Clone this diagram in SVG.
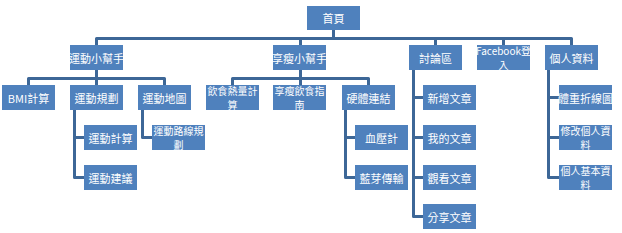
<svg xmlns="http://www.w3.org/2000/svg" width="622" height="233" viewBox="0 0 622 233">
<style>
.b{fill:#4F81BD;}
.t{fill:#FFFFFF;font-family:"Noto Sans CJK TC","Noto Sans CJK SC",sans-serif;font-size:11px;text-anchor:middle;dominant-baseline:central;}
.t2{font-size:10px;}
.c{fill:none;stroke:#3D6797;stroke-width:3;stroke-linejoin:round;}
</style>
<rect width="622" height="233" fill="#FFFFFF"/>
<g id="connectors">
<path class="c" d="M333.5 30V38.5M96.5 45V38.5H571.5V45M300.5 38.5V45M435.5 38.5V45M503.5 38.5V45"/>
<path class="c" d="M96.5 70V78.5M28.5 85V78.5H164.5V85M96.5 78.5V85"/>
<path class="c" d="M300.5 70V78.5M232.5 85V78.5H368.5V85M300.5 78.5V85"/>
<path class="c" d="M74.5 110V177.5H84M74.5 137.5H84"/>
<path class="c" d="M142.5 110V137.5H152"/>
<path class="c" d="M345.5 110V177.5H355M345.5 137.5H355"/>
<path class="c" d="M413.5 70V216.5H423M413.5 97.5H423M413.5 137.5H423M413.5 177.5H423"/>
<path class="c" d="M548.5 70V177.5H559M548.5 97.5H559M548.5 137.5H559"/>
</g>
<g id="n-home"><rect class="b" x="307" y="6" width="53" height="24"/><text class="t" x="333.5" y="18">首頁</text></g>
<g id="n-sport"><rect class="b" x="70" y="45" width="53" height="25"/><text class="t" x="96.5" y="57.5">運動小幫手</text></g>
<g id="n-diet"><rect class="b" x="273" y="45" width="53" height="25"/><text class="t" x="299.5" y="57.5">享瘦小幫手</text></g>
<g id="n-forum"><rect class="b" x="409" y="45" width="53" height="25"/><text class="t" x="435.5" y="57.5">討論區</text></g>
<g id="n-fb"><rect class="b" x="477" y="45" width="53" height="25"/><text class="t t2" x="503.5" y="50">Facebook登</text><text class="t t2" x="503.5" y="64.5">入</text></g>
<g id="n-profile"><rect class="b" x="545" y="45" width="53" height="25"/><text class="t" x="571.5" y="57.5">個人資料</text></g>
<g id="n-bmi"><rect class="b" x="2" y="85" width="53" height="25"/><text class="t" x="28.5" y="97.5">BMI計算</text></g>
<g id="n-plan"><rect class="b" x="70" y="85" width="53" height="25"/><text class="t" x="96.5" y="97.5">運動規劃</text></g>
<g id="n-map"><rect class="b" x="138" y="85" width="53" height="25"/><text class="t" x="164.5" y="97.5">運動地圖</text></g>
<g id="n-cal"><rect class="b" x="206" y="85" width="53" height="25"/><text class="t t2" x="232.5" y="90">飲食熱量計</text><text class="t t2" x="232.5" y="104.5">算</text></g>
<g id="n-guide"><rect class="b" x="273" y="85" width="53" height="25"/><text class="t t2" x="299.5" y="90">享瘦飲食指</text><text class="t t2" x="299.5" y="104.5">南</text></g>
<g id="n-hw"><rect class="b" x="342" y="85" width="53" height="25"/><text class="t" x="368.5" y="97.5">硬體連結</text></g>
<g id="n-new"><rect class="b" x="423" y="85" width="53" height="25"/><text class="t" x="449.5" y="97.5">新增文章</text></g>
<g id="n-weight"><rect class="b" x="559" y="85" width="53" height="25"/><text class="t" x="585.5" y="97.5">體重折線圖</text></g>
<g id="n-calc"><rect class="b" x="84" y="125" width="53" height="25"/><text class="t" x="110.5" y="137.5">運動計算</text></g>
<g id="n-route"><rect class="b" x="152" y="125" width="53" height="25"/><text class="t t2" x="178.5" y="130">運動路線規</text><text class="t t2" x="178.5" y="144.5">劃</text></g>
<g id="n-bp"><rect class="b" x="355" y="125" width="53" height="25"/><text class="t" x="381.5" y="137.5">血壓計</text></g>
<g id="n-mine"><rect class="b" x="423" y="125" width="53" height="25"/><text class="t" x="449.5" y="137.5">我的文章</text></g>
<g id="n-edit"><rect class="b" x="559" y="125" width="53" height="25"/><text class="t t2" x="585.5" y="130">修改個人資</text><text class="t t2" x="585.5" y="144.5">料</text></g>
<g id="n-advice"><rect class="b" x="84" y="165" width="53" height="25"/><text class="t" x="110.5" y="177.5">運動建議</text></g>
<g id="n-bt"><rect class="b" x="355" y="165" width="53" height="25"/><text class="t" x="381.5" y="177.5">藍芽傳輸</text></g>
<g id="n-view"><rect class="b" x="423" y="165" width="53" height="25"/><text class="t" x="449.5" y="177.5">觀看文章</text></g>
<g id="n-basic"><rect class="b" x="559" y="165" width="53" height="25"/><text class="t t2" x="585.5" y="170">個人基本資</text><text class="t t2" x="585.5" y="184.5">料</text></g>
<g id="n-share"><rect class="b" x="423" y="204" width="53" height="25"/><text class="t" x="449.5" y="216.5">分享文章</text></g>
</svg>
